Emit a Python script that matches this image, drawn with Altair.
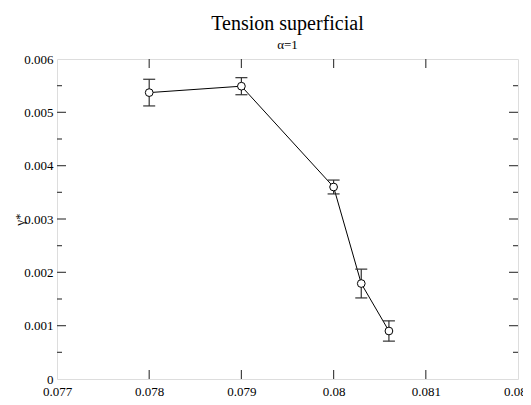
import altair as alt
import pandas as pd

# data
temps = [0.078, 0.079, 0.080, 0.0803, 0.0806]
gamma = [0.00537, 0.00549, 0.00360, 0.00179, 0.00090]
errs = [0.00025, 0.00016, 0.00013, 0.00027, 0.00019]

x_ticks = [0.077, 0.078, 0.079, 0.080, 0.081, 0.082]
y_major = [0.0, 0.001, 0.002, 0.003, 0.004, 0.005, 0.006]
y_minor = [0.0005, 0.0015, 0.0025, 0.0035, 0.0045, 0.0055]

W, H = 461, 320
FONT = "'Liberation Serif', 'Times New Roman', Times, serif"

df = pd.DataFrame({"T": temps, "g": gamma, "e": errs})
df["lo"] = df["g"] - df["e"]
df["hi"] = df["g"] + df["e"]

xs = alt.Scale(domain=[0.077, 0.082], nice=False, zero=False)
ys = alt.Scale(domain=[0, 0.006], nice=False)

xaxis = alt.Axis(values=x_ticks, labelExpr="datum.value == 0.08 ? '0.08' : format(datum.value, '.3f')",
                 ticks=False, domain=False, grid=False, labelFont=FONT, labelFontSize=13,
                 labelColor="black", labelPadding=6, labelFlush=False, labelOverlap=False,
                 labelBound=False, title="T*", titleFont=FONT,
                 titleFontSize=13, titleFontWeight="normal", titleColor="black", titlePadding=-2)
yaxis = alt.Axis(values=y_major, labelExpr="datum.value == 0 ? '0' : format(datum.value, '.3f')",
                 ticks=False, domain=False, grid=False, labelFont=FONT, labelFontSize=13,
                 labelColor="black", labelPadding=4, labelFlush=False, labelOverlap=False,
                 labelBound=False, title="γ*", titleFont=FONT,
                 titleFontSize=13, titleFontWeight="normal", titleColor="black", titleX=-31)

base = alt.Chart(df)

line = base.mark_line(color="black", strokeWidth=1).encode(
    x=alt.X("T:Q", scale=xs, axis=xaxis),
    y=alt.Y("g:Q", scale=ys, axis=yaxis),
)
bars = base.mark_rule(color="#333333", strokeWidth=1.2).encode(
    x="T:Q", y="lo:Q", y2="hi:Q")
cap_hi = base.mark_rule(color="#333333", strokeWidth=1.2, xOffset=-6, x2Offset=6).encode(
    x="T:Q", x2="T:Q", y="hi:Q")
cap_lo = base.mark_rule(color="#333333", strokeWidth=1.2, xOffset=-6, x2Offset=6).encode(
    x="T:Q", x2="T:Q", y="lo:Q")
pts = base.mark_point(shape="circle", filled=True, fill="white", stroke="black",
                      strokeWidth=1, size=60, opacity=1).encode(x="T:Q", y="g:Q")

tick_color = "#444444"
xt = alt.Chart(pd.DataFrame({"v": x_ticks[1:-1]}))
ymj = alt.Chart(pd.DataFrame({"v": y_major[1:-1]}))
ymn = alt.Chart(pd.DataFrame({"v": y_minor}))

xt_bot = xt.mark_rule(color=tick_color, strokeWidth=1.2).encode(
    x=alt.X("v:Q", scale=xs), y=alt.value(H), y2=alt.value(H - 9))
xt_top = xt.mark_rule(color=tick_color, strokeWidth=1.2).encode(
    x=alt.X("v:Q", scale=xs), y=alt.value(0), y2=alt.value(9))
yt_left = ymj.mark_rule(color=tick_color, strokeWidth=1.2).encode(
    y=alt.Y("v:Q", scale=ys), x=alt.value(0), x2=alt.value(9))
yt_right = ymj.mark_rule(color=tick_color, strokeWidth=1.2).encode(
    y=alt.Y("v:Q", scale=ys), x=alt.value(W), x2=alt.value(W - 9))
ym_left = ymn.mark_rule(color=tick_color, strokeWidth=1.2).encode(
    y=alt.Y("v:Q", scale=ys), x=alt.value(0), x2=alt.value(5))
ym_right = ymn.mark_rule(color=tick_color, strokeWidth=1.2).encode(
    y=alt.Y("v:Q", scale=ys), x=alt.value(W), x2=alt.value(W - 5))

chart = alt.layer(
    line, xt_bot, xt_top, yt_left, yt_right, ym_left, ym_right, bars, cap_hi, cap_lo, pts
).properties(
    width=W, height=H,
    title=alt.Title("Tension superficial", subtitle="α=1", font=FONT, fontSize=20,
                    fontWeight="normal", color="black", subtitleFont=FONT,
                    subtitleFontSize=13, subtitleColor="black", anchor="middle",
                    offset=1, subtitlePadding=5),
    autosize=alt.AutoSizeParams(type="none"),
    padding={"left": 49, "top": 51, "right": 5, "bottom": 18},
).configure_view(stroke="#333333", strokeWidth=1.6).configure(background="white")

chart.save("out.html", embed_options={"renderer": "svg", "actions": False})
